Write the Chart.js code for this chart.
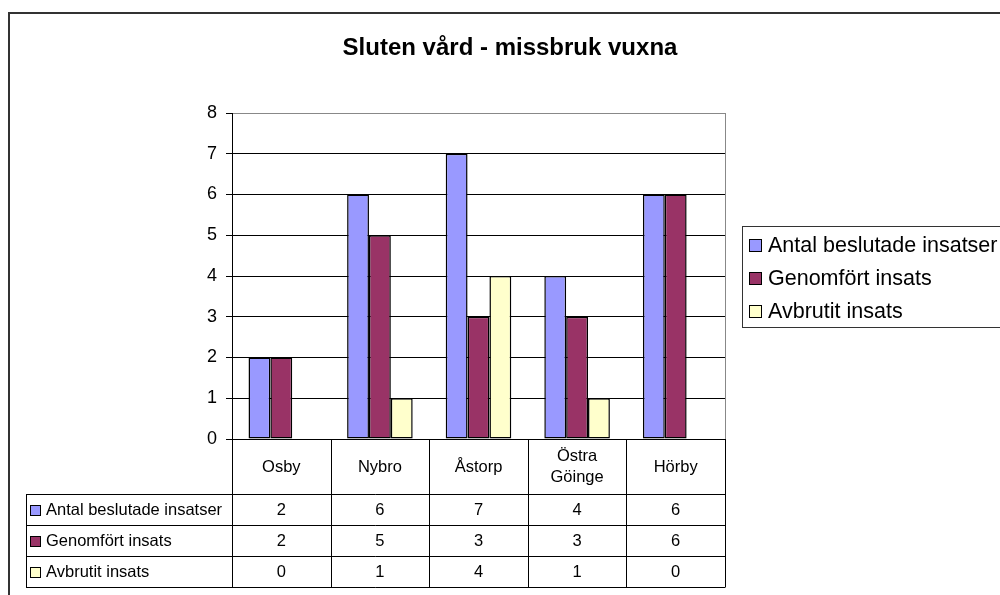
<!DOCTYPE html>
<html>
<head>
<meta charset="utf-8">
<script src="https://cdn.jsdelivr.net/npm/chart.js@4.4.1/dist/chart.umd.min.js"></script>
<style>
  html, body { margin: 0; padding: 0; background: #fff; }
  canvas { display: block; }
</style>
</head>
<body>
<canvas id="missbrukChart" width="1000" height="595"></canvas>
<script>
// data
const kommuner = ['Osby', 'Nybro', 'Åstorp', 'Östra Göinge', 'Hörby'];
const antalBeslutade = [2, 6, 7, 4, 6];
const genomfortInsats = [2, 5, 3, 3, 6];
const avbrutitInsats = [0, 1, 4, 1, 0];
const serieNamn = ['Antal beslutade insatser', 'Genomfört insats', 'Avbrutit insats'];
const serieFarger = ['#9999FF', '#993366', '#FFFFCC'];
const yMin = 0, yMax = 8, yStep = 1;
const titel = 'Sluten vård - missbruk vuxna';

const FONT = "'Liberation Sans', Arial, sans-serif";
Chart.defaults.font.family = FONT;
Chart.defaults.color = '#000';

// table geometry (below the plot area)
const headerHeight = 55;
const rowHeight = 31;
const tableLeft = 26;

const tablePlugin = {
    id: 'excelTable',
    beforeDraw(chart) {
        const ctx = chart.ctx;
        ctx.save();
        ctx.fillStyle = '#fff';
        ctx.fillRect(0, 0, chart.width, chart.height);
        ctx.restore();
    },
    afterDraw(chart) {
        const ctx = chart.ctx;
        const area = chart.chartArea;
        const x = chart.scales.x;
        const n = kommuner.length;

        ctx.save();

        // outer frame (cut off at right / bottom like the original)
        ctx.strokeStyle = '#333';
        ctx.lineWidth = 2;
        ctx.strokeRect(9, 13, 1010, 600);

        // title
        ctx.fillStyle = '#000';
        ctx.font = 'bold 24px ' + FONT;
        ctx.textAlign = 'center';
        ctx.textBaseline = 'alphabetic';
        ctx.fillText(titel, 510, 55);

        // plot area border (right side, gray)
        ctx.strokeStyle = '#888';
        ctx.lineWidth = 1;
        ctx.beginPath();
        ctx.moveTo(Math.round(area.right) + 0.5, area.top);
        ctx.lineTo(Math.round(area.right) + 0.5, area.bottom);
        ctx.stroke();

        // data table
        const top = area.bottom;
        const rowsTop = top + headerHeight;
        const bottom = rowsTop + rowHeight * serieNamn.length;
        const colEdge = i => Math.round(x.getPixelForValue(i - 0.5)) + 0.5;

        ctx.strokeStyle = '#000';
        ctx.beginPath();
        for (let i = 0; i <= n; i++) {
            ctx.moveTo(colEdge(i), top);
            ctx.lineTo(colEdge(i), bottom);
        }
        ctx.moveTo(tableLeft + 0.5, rowsTop);
        ctx.lineTo(tableLeft + 0.5, bottom);
        for (let r = 0; r <= serieNamn.length; r++) {
            const yy = Math.round(rowsTop + r * rowHeight) + 0.5;
            ctx.moveTo(tableLeft, yy);
            ctx.lineTo(colEdge(n), yy);
        }
        ctx.stroke();

        ctx.font = '16.5px ' + FONT;
        ctx.textBaseline = 'middle';
        ctx.fillStyle = '#000';

        // category headers
        kommuner.forEach((k, i) => {
            const cx = x.getPixelForValue(i);
            const w = colEdge(i + 1) - colEdge(i);
            const cy = top + headerHeight / 2 + 1;
            ctx.textAlign = 'center';
            if (ctx.measureText(k).width > w - 10 && k.indexOf(' ') > 0) {
                const parts = k.split(' ');
                ctx.fillText(parts[0], cx, cy - 11);
                ctx.fillText(parts.slice(1).join(' '), cx, cy + 10);
            } else {
                ctx.fillText(k, cx, cy);
            }
        });

        // series rows
        chart.data.datasets.forEach((ds, r) => {
            const cy = rowsTop + r * rowHeight + rowHeight / 2;
            ctx.fillStyle = ds.backgroundColor;
            ctx.fillRect(30.5, Math.round(cy - 5) + 0.5, 10, 10);
            ctx.strokeStyle = '#000';
            ctx.strokeRect(30.5, Math.round(cy - 5) + 0.5, 10, 10);
            ctx.fillStyle = '#000';
            ctx.textAlign = 'left';
            ctx.fillText(ds.label, 46, cy + 1);
            ctx.textAlign = 'center';
            ds.data.forEach((v, i) => {
                ctx.fillText(String(v), x.getPixelForValue(i), cy + 1);
            });
        });

        // legend box
        const lgLeft = 742, lgTop = 226, lgBottom = 327;
        ctx.strokeStyle = '#333';
        ctx.lineWidth = 1;
        ctx.strokeRect(lgLeft + 0.5, lgTop + 0.5, 400, lgBottom - lgTop);
        ctx.font = '21.5px ' + FONT;
        ctx.textAlign = 'left';
        chart.data.datasets.forEach((ds, r) => {
            const cy = lgTop + 19 + r * 33;
            ctx.fillStyle = ds.backgroundColor;
            ctx.fillRect(749.5, Math.round(cy - 6) + 0.5, 12, 12);
            ctx.strokeStyle = '#000';
            ctx.strokeRect(749.5, Math.round(cy - 6) + 0.5, 12, 12);
            ctx.fillStyle = '#000';
            ctx.fillText(ds.label, 768, cy + 1);
        });

        ctx.restore();
    }
};

const ctx = document.getElementById('missbrukChart').getContext('2d');
new Chart(ctx, {
    type: 'bar',
    data: {
        labels: kommuner,
        datasets: [
            { label: serieNamn[0], data: antalBeslutade, backgroundColor: serieFarger[0] },
            { label: serieNamn[1], data: genomfortInsats, backgroundColor: serieFarger[1] },
            { label: serieNamn[2], data: avbrutitInsats, backgroundColor: serieFarger[2] }
        ].map(ds => Object.assign(ds, {
            borderColor: '#000',
            borderWidth: 1.5,
            borderSkipped: false,
            categoryPercentage: 0.665,
            barPercentage: 1.0
        }))
    },
    options: {
        responsive: false,
        animation: false,
        devicePixelRatio: 1,
        layout: {
            padding: { left: 0, right: 275, top: 113, bottom: 156 }
        },
        plugins: {
            legend: { display: false },
            tooltip: { enabled: false },
            title: { display: false }
        },
        scales: {
            x: {
                display: false
            },
            y: {
                min: yMin,
                max: yMax,
                afterFit: scale => { scale.width = 232; },
                ticks: {
                    stepSize: yStep,
                    padding: 9,
                    font: { size: 18 },
                    color: '#000'
                },
                grid: {
                    color: c => (c.tick && c.tick.value === yMax) ? '#888' : '#000',
                    tickColor: '#000',
                    tickLength: 6,
                    lineWidth: 1
                },
                border: { display: true, color: '#000', width: 1 }
            }
        }
    },
    plugins: [tablePlugin]
});
</script>
</body>
</html>
